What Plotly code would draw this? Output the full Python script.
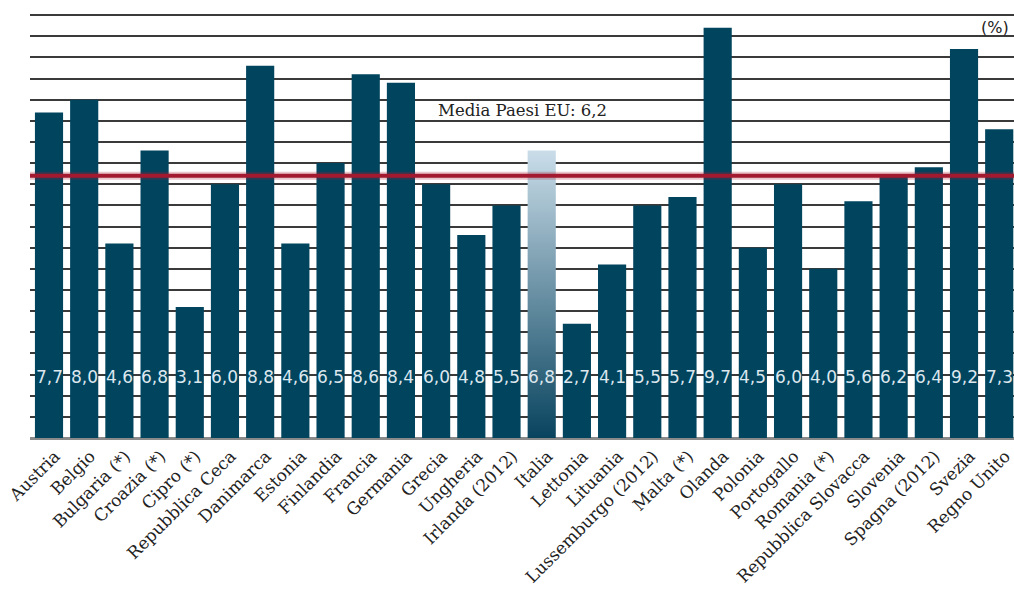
import plotly.graph_objects as go

# Paesi e valori (%)
paesi = [
    "Austria", "Belgio", "Bulgaria (*)", "Croazia (*)", "Cipro (*)",
    "Repubblica Ceca", "Danimarca", "Estonia", "Finlandia", "Francia",
    "Germania", "Grecia", "Ungheria", "Irlanda (2012)", "Italia",
    "Lettonia", "Lituania", "Lussemburgo (2012)", "Malta (*)", "Olanda",
    "Polonia", "Portogallo", "Romania (*)", "Repubblica Slovacca",
    "Slovenia", "Spagna (2012)", "Svezia", "Regno Unito",
]
valori = [
    7.7, 8.0, 4.6, 6.8, 3.1,
    6.0, 8.8, 4.6, 6.5, 8.6,
    8.4, 6.0, 4.8, 5.5, 6.8,
    2.7, 4.1, 5.5, 5.7, 9.7,
    4.5, 6.0, 4.0, 5.6,
    6.2, 6.4, 9.2, 7.3,
]
media_ue = 6.2
evidenziato = "Italia"

BLU = "#00445e"
ROSSO = "#a31a30"
SERIF = "DejaVu Serif"
SANS = "DejaVu Sans"

idx = list(range(len(paesi)))
i_hl = paesi.index(evidenziato)
colori = [BLU if p != evidenziato else "rgba(0,0,0,0)" for p in paesi]
larghezza = 0.8

fig = go.Figure()
fig.add_trace(go.Bar(
    x=idx, y=valori, marker=dict(color=colori, line=dict(width=0)),
    width=larghezza, showlegend=False,
))

# Barra evidenziata con sfumatura verticale
v = valori[i_hl]
fig.add_trace(go.Scatter(
    x=[i_hl - larghezza / 2, i_hl - larghezza / 2, i_hl + larghezza / 2, i_hl + larghezza / 2, i_hl - larghezza / 2],
    y=[0, v, v, 0, 0],
    mode="lines", line=dict(width=0), fill="toself",
    fillgradient=dict(type="vertical",
                      colorscale=[[0, "#08435e"], [1, "#cadde9"]]),
    hoverinfo="skip", showlegend=False,
))

# Etichette dei valori dentro le barre
for i, val in zip(idx, valori):
    fig.add_annotation(
        x=i, y=1.45, text=f"{val:.1f}".replace(".", ","), showarrow=False,
        font=dict(family=SANS, size=17, color="#dde7ee"),
    )

# Linea della media UE
fig.add_shape(type="line", xref="paper", x0=0, x1=1, y0=media_ue, y1=media_ue,
              line=dict(color="rgba(163,26,48,0.25)", width=8), layer="above")
fig.add_shape(type="line", xref="paper", x0=0, x1=1, y0=media_ue, y1=media_ue,
              line=dict(color=ROSSO, width=4), layer="above")
fig.add_annotation(
    xref="paper", x=0.501, y=7.75,
    text=f"Media Paesi EU: {media_ue:.1f}".replace(".", ","),
    showarrow=False, font=dict(family=SERIF, size=16.5, color="#222222"),
)
fig.add_annotation(
    xref="paper", x=0.997, xanchor="right", y=9.7, text="(%)",
    showarrow=False, font=dict(family=SANS, size=16, color="#222222"),
)

fig.update_layout(
    width=1014, height=592,
    margin=dict(l=30, r=0, t=13, b=154),
    paper_bgcolor="white", plot_bgcolor="white",
    bargap=0.2,
    xaxis=dict(
        range=[-0.54, 27.42], tickmode="array", tickvals=idx, ticktext=paesi,
        tickangle=-45, showgrid=False, zeroline=False, showline=False,
        ticks="", tickfont=dict(family=SERIF, size=17, color="#222222"),
        ticklabeloverflow="allow", ticklabelshift=6, ticklabelstandoff=4,
    ),
    yaxis=dict(
        range=[0, 10.05], dtick=0.5, showgrid=True, gridcolor="#3a3a3a",
        gridwidth=1.5, showticklabels=False, ticks="",
        zeroline=True, zerolinecolor="#8a8a8a", zerolinewidth=2.5,
        showline=False,
    ),
)

fig.write_html("out.html")
